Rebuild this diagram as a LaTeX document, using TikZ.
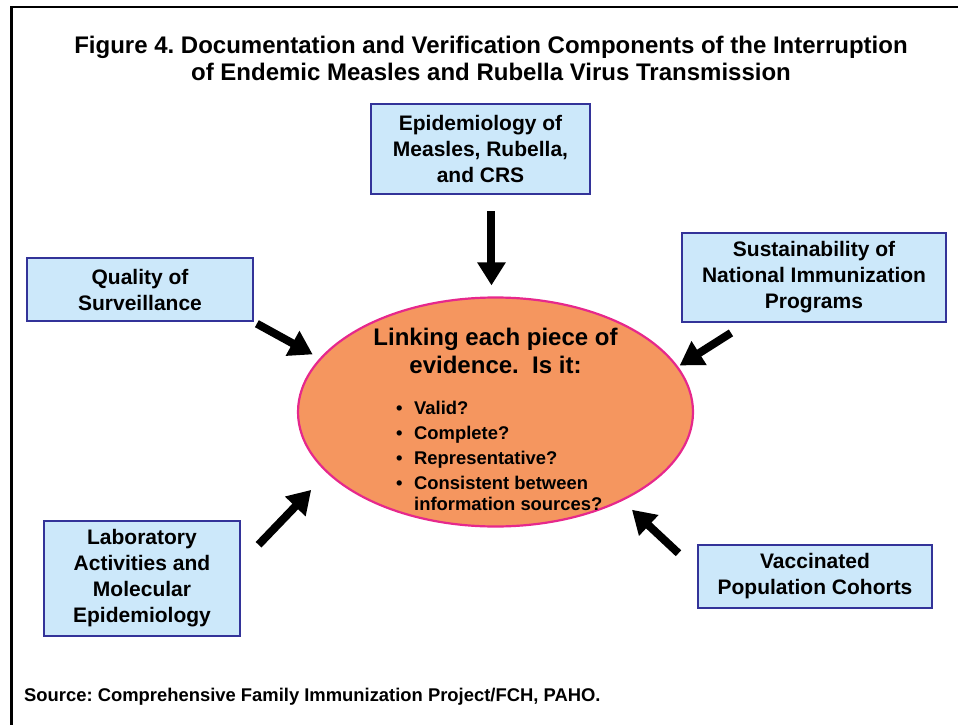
\documentclass[tikz,border=0pt]{standalone}
\usepackage{fontspec}
\setmainfont{Liberation Sans}
\frenchspacing
\usetikzlibrary{shapes.geometric,arrows.meta,calc}
\definecolor{boxblue}{RGB}{204,232,250}
\definecolor{boxline}{RGB}{51,51,153}
\definecolor{ovalfill}{RGB}{245,150,95}
\definecolor{ovalline}{RGB}{230,40,140}
\tikzstyle{comp} = [rectangle, draw=boxline, line width=2.5pt, fill=boxblue, align=center, font=\fontsize{21}{26}\selectfont\bfseries, inner sep=0pt]
\tikzstyle{thickarrow} = [line width=8pt, -{Triangle[length=23pt,width=27pt]}]

\begin{document}
\begin{tikzpicture}[x=1pt,y=-1pt]
            \useasboundingbox (0,0) rectangle (958,725);
            \draw[line width=2.5pt] (11.5,725) -- (11.5,7) -- (958,7);
            \node[font=\fontsize{24}{27}\selectfont\bfseries, align=center] (title) at (491,58.5) {Figure 4. Documentation and Verification Components of the Interruption\\of Endemic Measles and Rubella Virus Transmission};

            % components
            \node[comp, minimum width=219pt, minimum height=90pt] (epi) at (480.5,149) {Epidemiology of\\Measles, Rubella,\\and CRS};
            \node[comp, minimum width=226pt, minimum height=63pt] (qual) at (140,289.5) {Quality of\\Surveillance};
            \node[comp, minimum width=264pt, minimum height=89pt] (sust) at (814,277.5) {Sustainability of\\National Immunization\\Programs};
            \node[comp, minimum width=196pt, minimum height=115pt] (lab) at (142,578.5) {Laboratory\\Activities and\\Molecular\\Epidemiology};
            \node[comp, minimum width=234pt, minimum height=63pt] (vacc) at (815,576.5) {Vaccinated\\Population Cohorts};

            % centre
            \node[ellipse, draw=ovalline, line width=2.2pt, fill=ovalfill, minimum width=395pt, minimum height=229pt, inner sep=0pt] (link) at (495.5,412) {};
            \node[font=\fontsize{24}{28}\selectfont\bfseries, align=center] (ask) at (495.5,351) {Linking each piece of\\evidence.~ Is it:};
            \node[font=\fontsize{18.4}{21}\selectfont\bfseries, align=left, anchor=north west, inner sep=0pt] (crit) at (396,401) {\makebox[18pt][l]{\textbullet}Valid?\\[4pt]\makebox[18pt][l]{\textbullet}Complete?\\[4pt]\makebox[18pt][l]{\textbullet}Representative?\\[4pt]\makebox[18pt][l]{\textbullet}Consistent between\\\hspace*{18pt}information sources?};

            \draw[thickarrow, shorten <=16pt, shorten >=11pt] (epi.south -| link.92) -- (link.92);
            \draw[thickarrow, shorten <=3pt, shorten >=8pt] (qual.south east) -- (link.163);
            \draw[thickarrow, shorten <=18pt, shorten >=2pt] (sust.214) -- (link.14);
            \draw[thickarrow, shorten <=25pt, shorten >=23pt] (lab.9) -- (link.200);
            \draw[thickarrow, shorten <=25pt, shorten >=13pt] (vacc.177) -- (link.325);

            \node[font=\fontsize{18.4}{20}\selectfont\bfseries, anchor=west, inner sep=0pt] (src) at (24,697) {Source: Comprehensive Family Immunization Project/FCH, PAHO.};
\end{tikzpicture}
\end{document}
